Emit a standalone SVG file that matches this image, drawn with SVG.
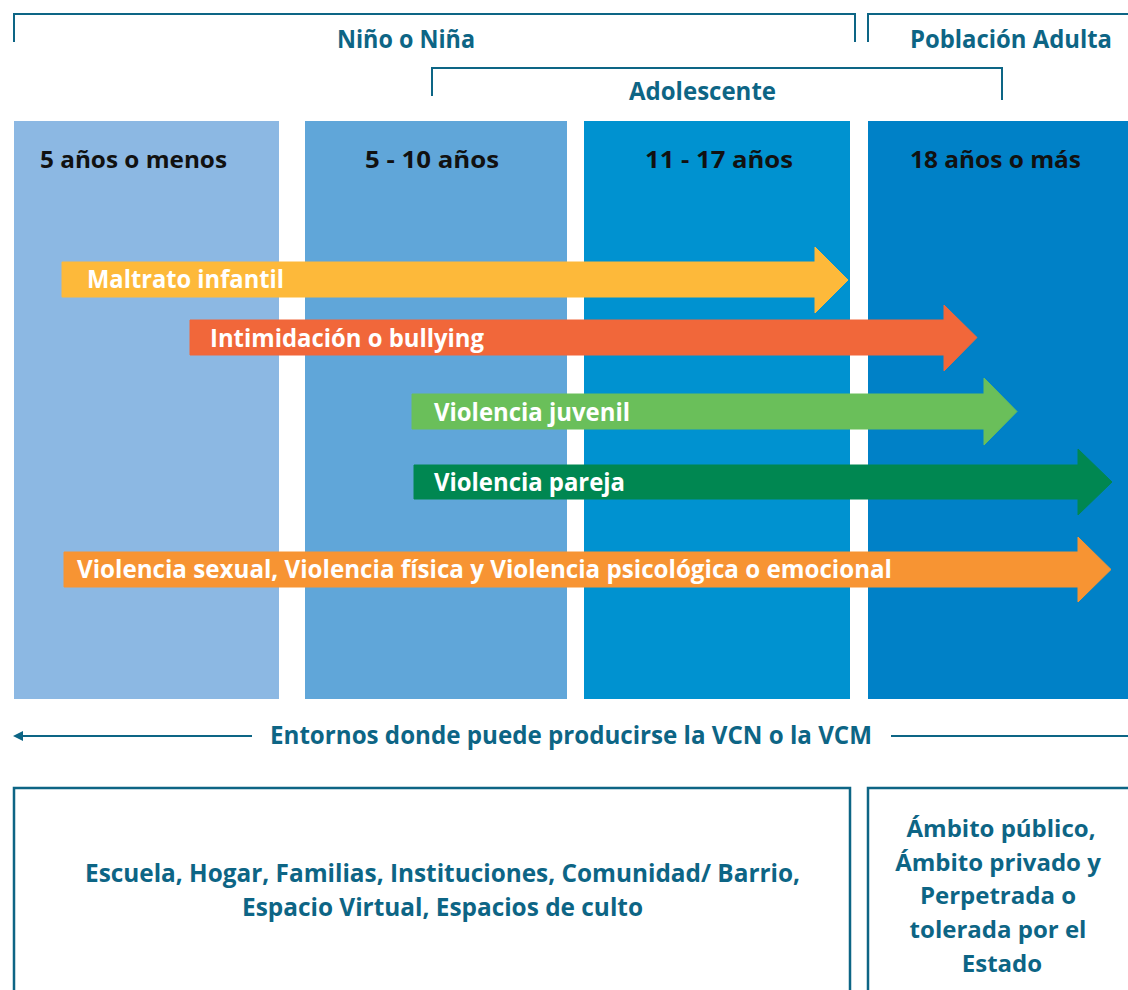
<svg xmlns="http://www.w3.org/2000/svg" width="1128" height="990" viewBox="0 0 1128 990">
<defs>
<style>
.t{font-family:"Open Sans","Noto Sans","Liberation Sans",sans-serif;font-weight:700}
.teal{fill:#0d6585}
.hdr{fill:#111;font-size:24px}
.lbl{fill:#fff;font-size:25px}
.big{font-size:25px}
.rb{font-size:24px}
.ln{stroke:#0d6585;stroke-width:2;fill:none}
.box{stroke:#0d6585;stroke-width:2.5;fill:#fff}
</style>
<marker id="ah" viewBox="0 0 10 10" refX="1" refY="5" markerWidth="5" markerHeight="5" orient="auto-start-reverse">
<path d="M0,0 L10,5 L0,10 Z" fill="#0d6585"/>
</marker>
</defs>
<rect width="1128" height="990" fill="#fff"/>

<g id="col1"><rect x="14" y="121" width="265" height="578" fill="#8cb8e3"/><text class="t hdr" x="40" y="168" textLength="187" lengthAdjust="spacingAndGlyphs">5 años o menos</text></g>
<g id="col2"><rect x="305" y="121" width="262" height="578" fill="#60a6d9"/><text class="t hdr" x="365" y="168" textLength="134" lengthAdjust="spacingAndGlyphs">5 - 10 años</text></g>
<g id="col3"><rect x="584" y="121" width="266" height="578" fill="#0092d0"/><text class="t hdr" x="645" y="168" textLength="148" lengthAdjust="spacingAndGlyphs">11 - 17 años</text></g>
<g id="col4"><rect x="868" y="121" width="260" height="578" fill="#0081c7"/><text class="t hdr" x="910" y="168" textLength="171" lengthAdjust="spacingAndGlyphs">18 años o más</text></g>

<g id="connectors">
<path class="ln" d="M14,42 V14 H855 V42"/>
<path class="ln" d="M868,42 V14 H1130"/>
<path class="ln" d="M432,96 V68 H1002 V100"/>
<line class="ln" x1="252" y1="736" x2="22" y2="736" marker-end="url(#ah)"/>
<line class="ln" x1="891" y1="736" x2="1128" y2="736"/>
</g>

<g id="lbl-nino"><text class="t teal big" x="337" y="48" textLength="138" lengthAdjust="spacingAndGlyphs">Niño o Niña</text></g>
<g id="lbl-adulta"><text class="t teal big" x="910" y="48" textLength="202" lengthAdjust="spacingAndGlyphs">Población Adulta</text></g>
<g id="lbl-adol"><text class="t teal big" x="629" y="100" textLength="147" lengthAdjust="spacingAndGlyphs">Adolescente</text></g>

<g id="arrow-maltrato">
<path d="M62,262 H815 V247 L848,280 L815,313 V297 H62 Z" fill="#fdb93a" stroke="#fdb93a" stroke-width="1" stroke-linejoin="round"/>
<text class="t lbl" x="87" y="288" textLength="197" lengthAdjust="spacingAndGlyphs">Maltrato infantil</text>
</g>
<g id="arrow-bullying">
<path d="M190,320 H944 V305 L977,337.5 L944,371 V355 H190 Z" fill="#f1673a" stroke="#f1673a" stroke-width="1" stroke-linejoin="round"/>
<text class="t lbl" x="210" y="347" textLength="274" lengthAdjust="spacingAndGlyphs">Intimidación o bullying</text>
</g>
<g id="arrow-juvenil">
<path d="M412,394 H984 V378 L1017,411.5 L984,445 V429 H412 Z" fill="#6abf5a" stroke="#6abf5a" stroke-width="1" stroke-linejoin="round"/>
<text class="t lbl" x="434" y="421" textLength="196" lengthAdjust="spacingAndGlyphs">Violencia juvenil</text>
</g>
<g id="arrow-pareja">
<path d="M414,465 H1078 V449 L1112,482 L1078,515 V499 H414 Z" fill="#008751" stroke="#008751" stroke-width="1" stroke-linejoin="round"/>
<text class="t lbl" x="434" y="491" textLength="191" lengthAdjust="spacingAndGlyphs">Violencia pareja</text>
</g>
<g id="arrow-sexual">
<path d="M64,552 H1078 V537 L1111,569.5 L1078,602 V587 H64 Z" fill="#f79433" stroke="#f79433" stroke-width="1" stroke-linejoin="round"/>
<text class="t lbl" x="77" y="578" textLength="815" lengthAdjust="spacingAndGlyphs">Violencia sexual, Violencia física y Violencia psicológica o emocional</text>
</g>

<g id="lbl-entornos"><text class="t teal big" x="270" y="744" textLength="602" lengthAdjust="spacingAndGlyphs">Entornos donde puede producirse la VCN o la VCM</text></g>

<g id="box-left">
<path class="box" d="M14,995 V788 H850 V995"/>
<text class="t teal big" x="85" y="882" textLength="715" lengthAdjust="spacingAndGlyphs">Escuela, Hogar, Familias, Instituciones, Comunidad/ Barrio,</text>
<text class="t teal big" x="242" y="916" textLength="401" lengthAdjust="spacingAndGlyphs">Espacio Virtual, Espacios de culto</text>
</g>
<g id="box-right">
<path class="box" d="M868,995 V788 H1130"/>
<text class="t teal rb" text-anchor="middle" x="1001" y="837">Ámbito público,</text>
<text class="t teal rb" text-anchor="middle" x="998" y="871">Ámbito privado y</text>
<text class="t teal rb" text-anchor="middle" x="998" y="904">Perpetrada o</text>
<text class="t teal rb" text-anchor="middle" x="998" y="938">tolerada por el</text>
<text class="t teal rb" text-anchor="middle" x="1002" y="972">Estado</text>
</g>
</svg>
